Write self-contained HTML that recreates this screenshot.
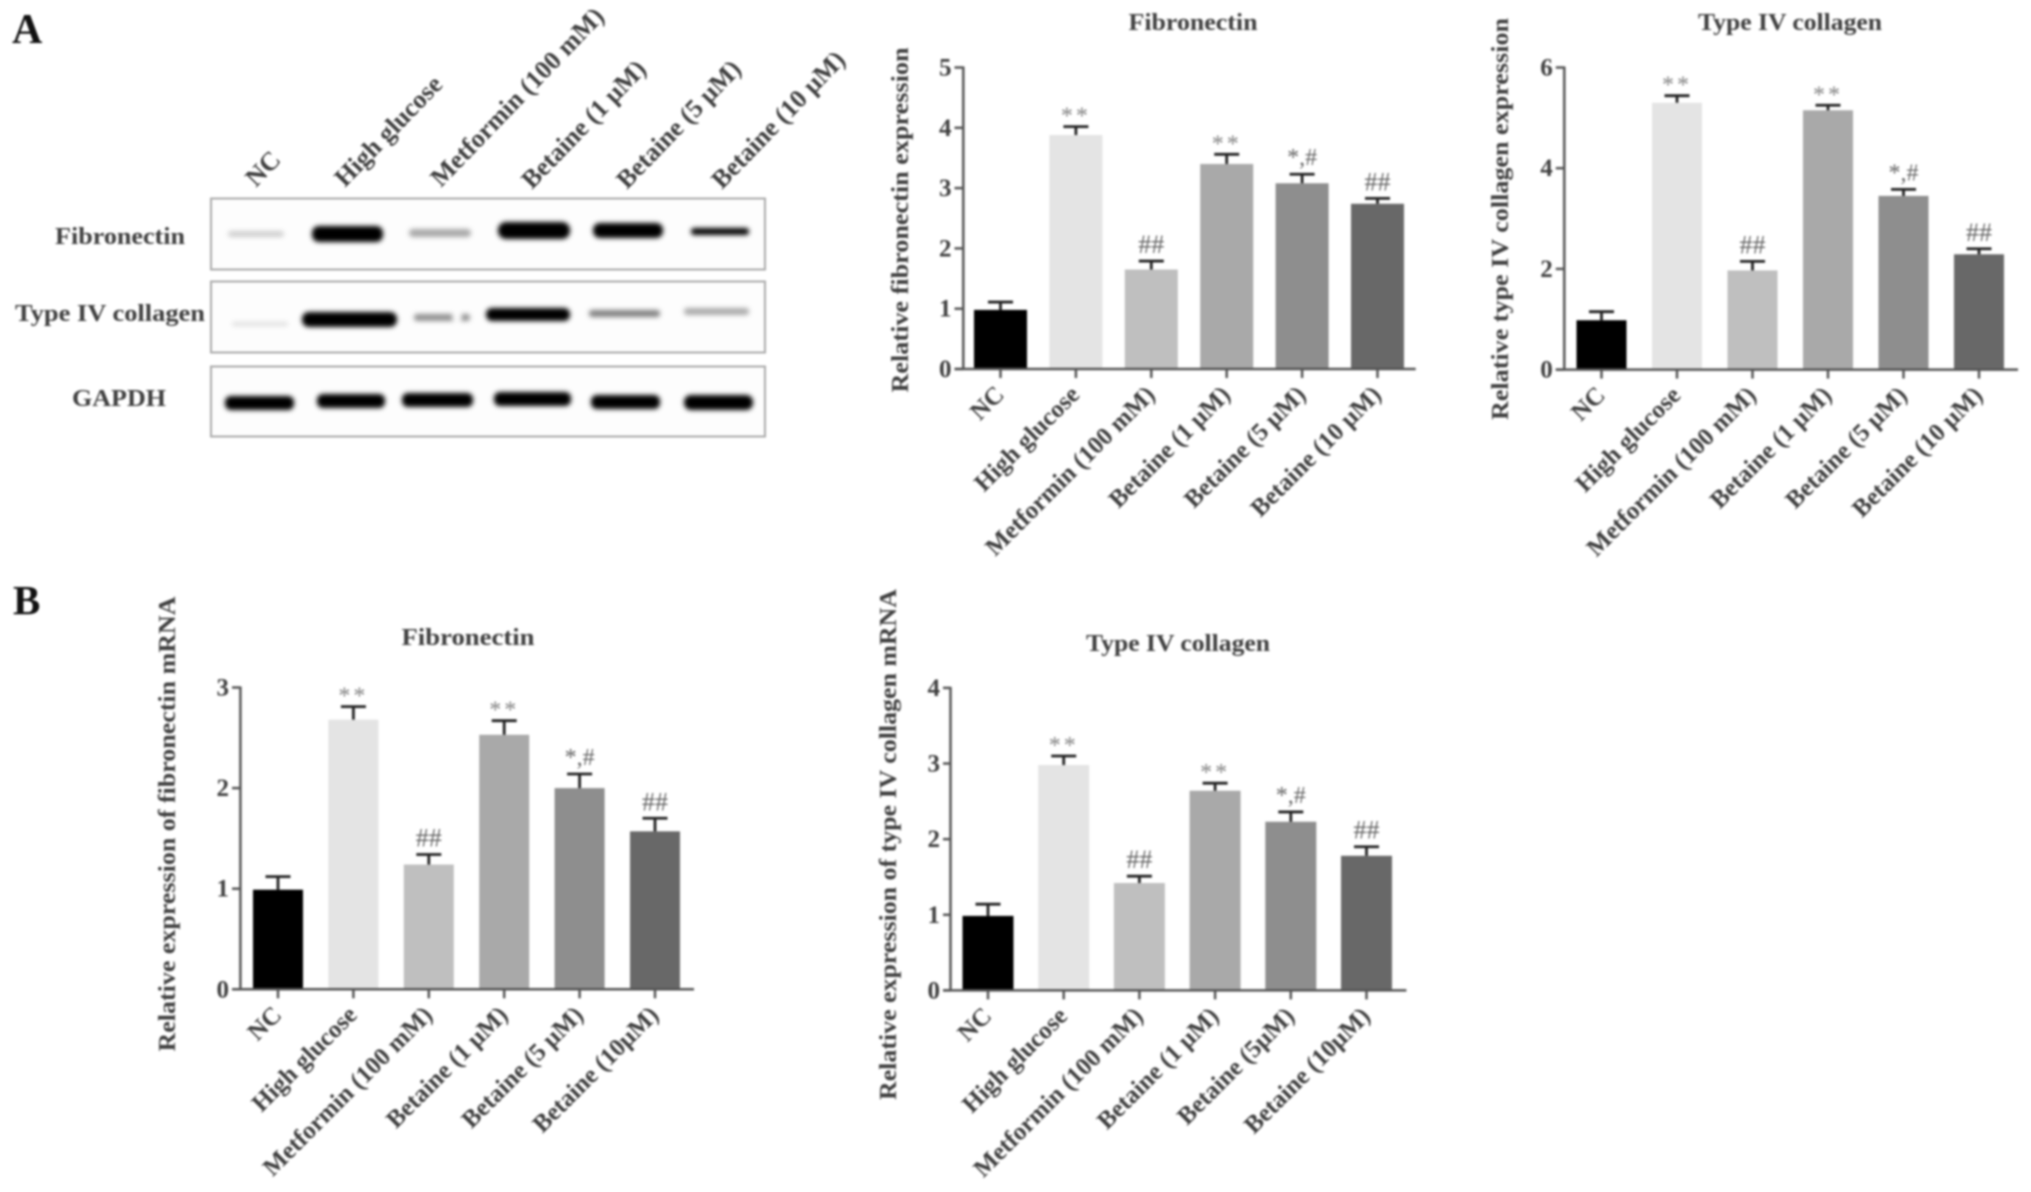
<!DOCTYPE html>
<html lang="en">
<head>
<meta charset="utf-8">
<title>Fibronectin and type IV collagen expression</title>
<style>
html,body{margin:0;padding:0;background:#fff;}
svg{display:block;filter:blur(0.95px);}
text{font-family:"Liberation Serif",serif;font-weight:bold;fill:#3f3f3f;}
.sig{font-weight:normal;fill:#666;}
.star{fill:#858585;letter-spacing:3px;}
.panel{fill:#111;}
</style>
</head>
<body>
<svg id="figure" xmlns="http://www.w3.org/2000/svg" width="2031" height="1192" viewBox="0 0 2031 1192">
<defs>
<filter id="band-blur" x="-20%" y="-100%" width="140%" height="300%"><feGaussianBlur stdDeviation="2.4"/></filter>
</defs>
<rect width="2031" height="1192" fill="#fff"/>
<text class="panel" x="12" y="43" font-size="42">A</text>
<text class="panel" x="13" y="614" font-size="41">B</text>

<g>
<rect x="211" y="198.5" width="554" height="71" fill="#fdfdfd" stroke="#aaa" stroke-width="2"/>
<rect x="211" y="281.5" width="554" height="71" fill="#fdfdfd" stroke="#aaa" stroke-width="2"/>
<rect x="211" y="366.5" width="554" height="70" fill="#fdfdfd" stroke="#aaa" stroke-width="2"/>
<g filter="url(#band-blur)">
<rect x="228" y="231" width="56" height="6" rx="3" fill="#cfcfcf"/>
<rect x="312" y="226" width="71" height="16" rx="7" fill="#000"/>
<rect x="409" y="229" width="62" height="8" rx="4" fill="#a8a8a8"/>
<rect x="498" y="222" width="72" height="17" rx="8" fill="#000"/>
<rect x="593" y="223" width="70" height="15" rx="7" fill="#000"/>
<rect x="691" y="228" width="58" height="7" rx="3" fill="#000"/>
</g>
<g filter="url(#band-blur)">
<rect x="232" y="322" width="56" height="4" rx="2" fill="#dedede"/>
<rect x="302" y="312" width="95" height="15" rx="7" fill="#000"/>
<rect x="414" y="314" width="56" height="7" rx="3" fill="#909090"/>
<rect x="486" y="308" width="84" height="13" rx="6" fill="#000"/>
<rect x="589" y="310" width="71" height="7" rx="3" fill="#808080"/>
<rect x="684" y="308" width="65" height="7" rx="3" fill="#aaa"/>
<circle cx="457" cy="317" r="4.5" fill="#fff"/>
</g>
<g filter="url(#band-blur)">
<rect x="225" y="396" width="69" height="14" rx="6" fill="#000"/>
<rect x="317" y="394" width="68" height="14" rx="6" fill="#000"/>
<rect x="402" y="393" width="71" height="14" rx="6" fill="#000"/>
<rect x="494" y="392" width="77" height="14" rx="6" fill="#000"/>
<rect x="591" y="395" width="69" height="14" rx="6" fill="#000"/>
<rect x="684" y="395" width="69" height="15" rx="7" fill="#000"/>
</g>
<text x="55" y="244" font-size="24" textLength="130" lengthAdjust="spacingAndGlyphs">Fibronectin</text>
<text x="15" y="321" font-size="24" textLength="190" lengthAdjust="spacingAndGlyphs">Type IV collagen</text>
<text x="72" y="406" font-size="24" textLength="94" lengthAdjust="spacingAndGlyphs">GAPDH</text>
<text transform="translate(256,188) rotate(-46)" font-size="26">NC</text>
<text transform="translate(345,188) rotate(-46)" font-size="26">High glucose</text>
<text transform="translate(441,188) rotate(-46)" font-size="26">Metformin (100 mM)</text>
<text transform="translate(532,190) rotate(-46)" font-size="26">Betaine (1 μM)</text>
<text transform="translate(627,190) rotate(-46)" font-size="26">Betaine (5 μM)</text>
<text transform="translate(722,190) rotate(-46)" font-size="26">Betaine (10 μM)</text>
</g>
<g id="charts"></g>
</svg>
<script>
const categoriesA = ["NC", "High glucose", "Metformin (100 mM)", "Betaine (1 μM)", "Betaine (5 μM)", "Betaine (10 μM)"];
const categoriesB1 = ["NC", "High glucose", "Metformin (100 mM)", "Betaine (1 μM)", "Betaine (5 μM)", "Betaine (10μM)"];
const categoriesB2 = ["NC", "High glucose", "Metformin (100 mM)", "Betaine (1 μM)", "Betaine (5μM)", "Betaine (10μM)"];
const significance = ["", "**", "##", "**", "*,#", "##"];
const valuesA1 = [0.98, 3.88, 1.65, 3.40, 3.08, 2.74];
const errorTopsA1 = [1.11, 4.02, 1.79, 3.56, 3.23, 2.83];
const valuesA2 = [0.98, 5.30, 1.97, 5.15, 3.45, 2.29];
const errorTopsA2 = [1.15, 5.44, 2.15, 5.25, 3.58, 2.40];
const valuesB1 = [0.99, 2.68, 1.24, 2.53, 2.00, 1.57];
const errorTopsB1 = [1.12, 2.81, 1.34, 2.67, 2.14, 1.70];
const valuesB2 = [0.985, 2.98, 1.42, 2.64, 2.23, 1.78];
const errorTopsB2 = [1.14, 3.10, 1.51, 2.74, 2.36, 1.90];
const ticksA1 = [0, 1, 2, 3, 4, 5];
const ticksA2 = [0, 2, 4, 6];
const ticksB1 = [0, 1, 2, 3];
const ticksB2 = [0, 1, 2, 3, 4];
const barColors = ["#000000", "#e4e4e4", "#bfbfbf", "#a9a9a9", "#8e8e8e", "#686868"];

const SVGNS = "http://www.w3.org/2000/svg";
const root = document.getElementById("charts");

function make(parent, tag, attrs, content) {
  const el = document.createElementNS(SVGNS, tag);
  for (const key in attrs) el.setAttribute(key, attrs[key]);
  if (content !== undefined) el.textContent = content;
  parent.appendChild(el);
  return el;
}

function drawChart(c) {
  const xScale = i => c.firstX + i * c.step;
  const yScale = v => c.baseY - (v / c.yMax) * (c.baseY - c.topY);

  const g = make(root, "g", {});
  
  

  const title = make(g, "text", {x: c.titleX, y: c.titleY, "font-size": 24, "text-anchor": "middle", textLength: c.titleLen, lengthAdjust: "spacingAndGlyphs"}, c.title);
  
  

  const yTitle = make(g, "text", {transform: "translate(" + c.yTitleX + "," + c.yTitleMid + ") rotate(-90)", "font-size": 24, "text-anchor": "middle", textLength: c.yTitleLen, lengthAdjust: "spacingAndGlyphs"}, c.yTitle);
  
  

  c.values.forEach((v, i) => {
    const bar = make(g, "rect", {x: xScale(i) - c.barW / 2, y: yScale(v), width: c.barW, height: c.baseY - yScale(v), fill: barColors[i]});
    
    

    const stem = make(g, "line", {x1: xScale(i), x2: xScale(i), y1: yScale(v), y2: yScale(c.errorTops[i]), stroke: "#222", "stroke-width": 2.8});
    
    

    const cap = make(g, "line", {x1: xScale(i) - 12.5, x2: xScale(i) + 12.5, y1: yScale(c.errorTops[i]), y2: yScale(c.errorTops[i]), stroke: "#222", "stroke-width": 2.8});
    
    

    const mark = significance[i];
    if (mark) {
      const lift = mark === "**" ? 3 : mark === "##" ? 8 : 9;
      const sig = make(g, "text", {x: xScale(i), y: yScale(c.errorTops[i]) - lift, "font-size": mark === "##" ? 26 : 24, "text-anchor": "middle", class: mark === "**" ? "sig star" : "sig"}, mark);
      
      
    }

    const tick = make(g, "line", {x1: xScale(i), x2: xScale(i), y1: c.baseY, y2: c.baseY + 9, stroke: "#555", "stroke-width": 2.5});
    
    

    const label = make(g, "text", {transform: "translate(" + (xScale(i) + 5) + "," + (c.baseY + 27) + ") rotate(-45)", "font-size": 25, "text-anchor": "end"}, c.categories[i]);
    
    
  });

  const yAxis = make(g, "line", {x1: c.axisX, x2: c.axisX, y1: c.topY - 1, y2: c.baseY, stroke: "#555", "stroke-width": 2.5});
  
  

  const xAxis = make(g, "line", {x1: c.axisLeft, x2: c.axisRight, y1: c.baseY, y2: c.baseY, stroke: "#555", "stroke-width": 2.5});
  
  

  c.ticks.forEach(t => {
    const yTick = make(g, "line", {x1: c.axisLeft, x2: c.axisX, y1: yScale(t), y2: yScale(t), stroke: "#555", "stroke-width": 2.5});
    
    

    const yLabel = make(g, "text", {x: c.axisLeft - 3, y: yScale(t) + 8, "font-size": 25, "text-anchor": "end"}, String(t));
    
    
  });
}

drawChart({name: "chart-a-fibronectin", title: "Fibronectin", titleX: 1193, titleY: 30, titleLen: 129,
  yTitle: "Relative fibronectin expression", yTitleX: 908, yTitleMid: 220, yTitleLen: 345,
  categories: categoriesA, values: valuesA1, errorTops: errorTopsA1, ticks: ticksA1, yMax: 5,
  axisX: 963.3, axisLeft: 954.5, axisRight: 1415.7, baseY: 369, topY: 67.5, firstX: 1000.5, step: 75.4, barW: 53});
drawChart({name: "chart-a-type-iv-collagen", title: "Type IV collagen", titleX: 1790, titleY: 30, titleLen: 184,
  yTitle: "Relative type IV collagen expression", yTitleX: 1508, yTitleMid: 219, yTitleLen: 402,
  categories: categoriesA, values: valuesA2, errorTops: errorTopsA2, ticks: ticksA2, yMax: 6,
  axisX: 1564.3, axisLeft: 1555.8, axisRight: 2018, baseY: 369.6, topY: 67.5, firstX: 1601.5, step: 75.5, barW: 50});
drawChart({name: "chart-b-fibronectin", title: "Fibronectin", titleX: 468, titleY: 645, titleLen: 133,
  yTitle: "Relative expression of fibronectin mRNA", yTitleX: 175, yTitleMid: 824, yTitleLen: 455,
  categories: categoriesB1, values: valuesB1, errorTops: errorTopsB1, ticks: ticksB1, yMax: 3,
  axisX: 240.4, axisLeft: 232, axisRight: 694, baseY: 989.3, topY: 687.5, firstX: 278, step: 75.4, barW: 50});
drawChart({name: "chart-b-type-iv-collagen", title: "Type IV collagen", titleX: 1178, titleY: 651, titleLen: 184,
  yTitle: "Relative expression of type IV collagen mRNA", yTitleX: 896, yTitleMid: 844.5, yTitleLen: 511,
  categories: categoriesB2, values: valuesB2, errorTops: errorTopsB2, ticks: ticksB2, yMax: 4,
  axisX: 950.5, axisLeft: 943, axisRight: 1406.4, baseY: 990.4, topY: 687.9, firstX: 988, step: 75.7, barW: 51});
</script>
</body>
</html>
